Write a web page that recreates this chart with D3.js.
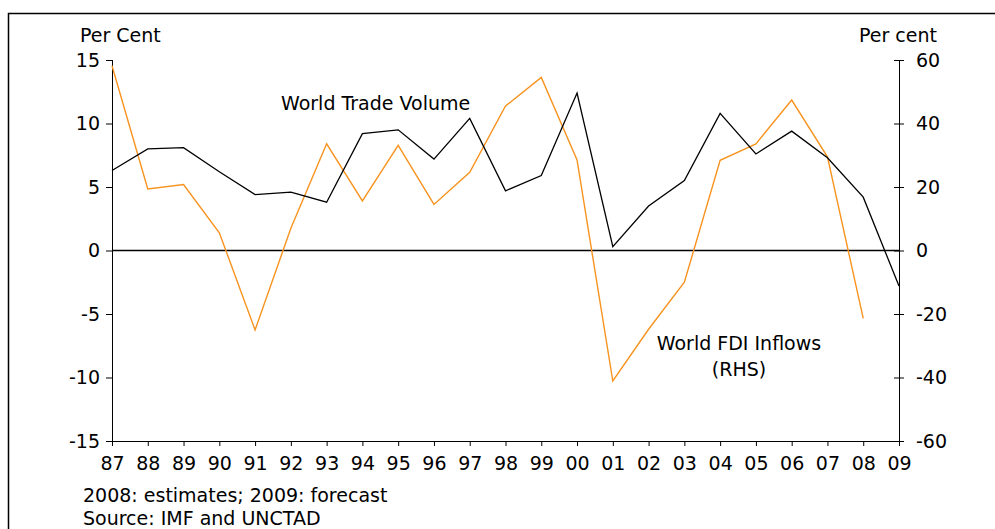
<!DOCTYPE html>
<html>
<head>
<meta charset="utf-8">
<script src="https://cdn.jsdelivr.net/npm/d3@7"></script>
<style>
  html, body { margin: 0; padding: 0; background: #fff; }
  svg { display: block; font-family: "DejaVu Sans", Verdana, sans-serif; }
  .axis path, .axis line { stroke: #000; stroke-width: 1; }
  .axis text { font-size: 19px; fill: #000; font-family: "DejaVu Sans", Verdana, sans-serif; }
</style>
</head>
<body>
<svg id="chart"></svg>
<script>
const years = ['87', '88', '89', '90', '91', '92', '93', '94', '95', '96', '97',
  '98', '99', '00', '01', '02', '03', '04', '05', '06', '07', '08', '09'];

// World trade volume, per cent (left axis)
const tradeVolume = [6.3, 8.0, 8.1, 6.2, 4.4, 4.6, 3.8, 9.2, 9.5, 7.2, 10.4,
  4.7, 5.9, 12.4, 0.3, 3.5, 5.5, 10.8, 7.6, 9.4, 7.3, 4.2, -2.8];

// World FDI inflows, per cent (right axis); no value for 2009
const fdiInflows = [58.2, 19.4, 20.8, 5.6, -25.0, 7.0, 33.6, 15.6, 33.1, 14.5, 24.6,
  45.5, 54.5, 28.5, -41.1, -24.8, -10.0, 28.4, 33.6, 47.4, 29.5, -21.4, null];

const leftTicks = [-15, -10, -5, 0, 5, 10, 15];
const rightTicks = [-60, -40, -20, 0, 20, 40, 60];

const width = 995, height = 529;
const margin = {top: 60, right: 96, bottom: 88, left: 112};
const chartWidth = width - margin.left - margin.right;
const chartHeight = height - margin.top - margin.bottom;
const fontSize = 19;

const svg = d3.select('#chart')
  .attr('width', width)
  .attr('height', height);

// outer frame, runs off the right and bottom of the picture
svg.append('rect')
  .attr('x', 8.5).attr('y', 13.5)
  .attr('width', width).attr('height', height)
  .attr('fill', 'none')
  .attr('stroke', '#000')
  .attr('stroke-width', 1.5);

const chart = svg.append('g')
  .attr('transform', `translate(${margin.left}, ${margin.top})`);

const x = d3.scalePoint()
  .domain(years)
  .range([0, chartWidth]);

const yLeft = d3.scaleLinear()
  .domain([-15, 15])
  .range([chartHeight, 0]);

const yRight = d3.scaleLinear()
  .domain([-60, 60])
  .range([chartHeight, 0]);

const plainNum = d => String(d);  // hyphen minus like the original

// axes
chart.append('g')
  .attr('class', 'axis')
  .attr('transform', `translate(0, ${chartHeight})`)
  .call(d3.axisBottom(x).tickSize(5).tickPadding(11))
  .call(g => g.select('.domain').attr('d', `M0,0.5H${chartWidth}`));

chart.append('g')
  .attr('class', 'axis')
  .call(d3.axisLeft(yLeft).tickValues(leftTicks).tickFormat(plainNum).tickSize(6).tickPadding(6))
  .call(g => g.select('.domain').attr('d', `M0.5,0V${chartHeight}`));

const rightAxis = chart.append('g')
  .attr('class', 'axis')
  .attr('transform', `translate(${chartWidth}, 0)`)
  .call(d3.axisRight(yRight).tickValues(rightTicks).tickFormat(plainNum).tickSize(5).tickPadding(12))
  .call(g => g.select('.domain').attr('d', `M0.5,0V${chartHeight}`));
rightAxis.selectAll('.tick line').attr('x1', -5);

// zero line
chart.append('line')
  .attr('x1', 0).attr('x2', chartWidth)
  .attr('y1', yLeft(0)).attr('y2', yLeft(0))
  .attr('stroke', '#000')
  .attr('stroke-width', 1.3);

const tradeLine = d3.line()
  .x((d, i) => x(years[i]))
  .y(d => yLeft(d));

const fdiLine = d3.line()
  .defined(d => d !== null)
  .x((d, i) => x(years[i]))
  .y(d => yRight(d));

chart.append('path')
  .datum(fdiInflows)
  .attr('d', fdiLine)
  .attr('fill', 'none')
  .attr('stroke', '#f7931e')
  .attr('stroke-width', 1.4);

chart.append('path')
  .datum(tradeVolume)
  .attr('d', tradeLine)
  .attr('fill', 'none')
  .attr('stroke', '#000')
  .attr('stroke-width', 1.3);

// axis titles
svg.append('text')
  .attr('x', 80).attr('y', 42)
  .attr('font-size', fontSize)
  .text('Per Cent');

svg.append('text')
  .attr('x', 937).attr('y', 42)
  .attr('font-size', fontSize)
  .attr('text-anchor', 'end')
  .text('Per cent');

// series labels
svg.append('text')
  .attr('x', 281).attr('y', 110)
  .attr('font-size', fontSize)
  .text('World Trade Volume');

const fdiLabel = svg.append('text')
  .attr('x', 739).attr('y', 350)
  .attr('font-size', fontSize)
  .attr('text-anchor', 'middle');
fdiLabel.append('tspan').attr('x', 739).text('World FDI Inflows');
fdiLabel.append('tspan').attr('x', 739).attr('dy', 26).text('(RHS)');

// notes
svg.append('text')
  .attr('x', 83).attr('y', 502)
  .attr('font-size', fontSize)
  .text('2008: estimates; 2009: forecast');

svg.append('text')
  .attr('x', 83).attr('y', 525)
  .attr('font-size', fontSize)
  .text('Source: IMF and UNCTAD');
</script>
</body>
</html>
